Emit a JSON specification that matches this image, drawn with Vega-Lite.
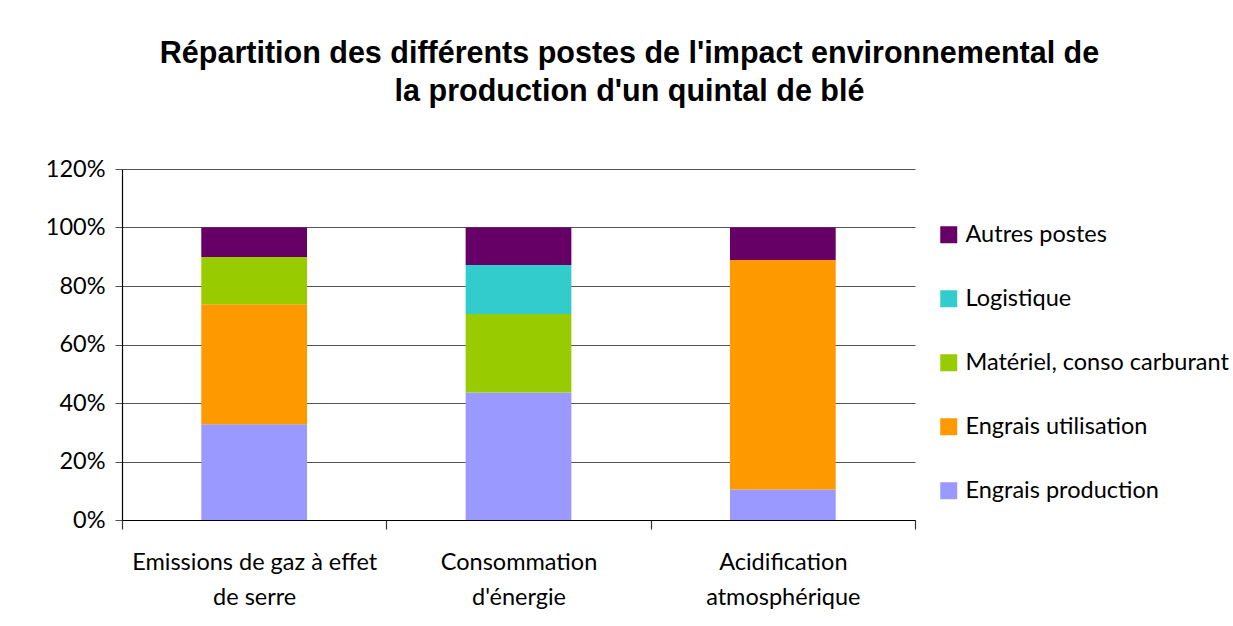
{
  "$schema": "https://vega.github.io/schema/vega-lite/v6.json",
  "autosize": {"type": "none"},
  "width": 793,
  "height": 351,
  "padding": {"left": 122, "top": 169, "right": 318, "bottom": 106},
  "background": "white",
  "title": {
    "text": ["Répartition des différents postes de l'impact environnemental de", "la production d'un quintal de blé"],
    "font": "Liberation Sans",
    "fontSize": 30.5,
    "fontWeight": "bold",
    "color": "black",
    "lineHeight": 38,
    "anchor": "middle",
    "frame": "group",
    "dx": 111,
    "offset": 50
  },
  "data": {
    "values": [
      {"impact": "Emissions de gaz à effet de serre", "poste": "Engrais production", "part": 0.327},
      {"impact": "Emissions de gaz à effet de serre", "poste": "Engrais utilisation", "part": 0.411},
      {"impact": "Emissions de gaz à effet de serre", "poste": "Matériel, conso carburant", "part": 0.161},
      {"impact": "Emissions de gaz à effet de serre", "poste": "Autres postes", "part": 0.101},
      {"impact": "Consommation d'énergie", "poste": "Engrais production", "part": 0.436},
      {"impact": "Consommation d'énergie", "poste": "Matériel, conso carburant", "part": 0.268},
      {"impact": "Consommation d'énergie", "poste": "Logistique", "part": 0.168},
      {"impact": "Consommation d'énergie", "poste": "Autres postes", "part": 0.128},
      {"impact": "Acidification atmosphérique", "poste": "Engrais production", "part": 0.104},
      {"impact": "Acidification atmosphérique", "poste": "Engrais utilisation", "part": 0.785},
      {"impact": "Acidification atmosphérique", "poste": "Autres postes", "part": 0.111}
    ]
  },
  "transform": [
    {"calculate": "indexof(['Engrais production','Engrais utilisation','Matériel, conso carburant','Logistique','Autres postes'], datum.poste)", "as": "rang"}
  ],
  "mark": {"type": "bar", "width": {"band": 0.4}},
  "encoding": {
    "x": {
      "field": "impact",
      "type": "nominal",
      "sort": ["Emissions de gaz à effet de serre", "Consommation d'énergie", "Acidification atmosphérique"],
      "scale": {"paddingInner": 0, "paddingOuter": 0},
      "axis": {
        "title": null,
        "labelAngle": 0,
        "labelExpr": "datum.label == 'Emissions de gaz à effet de serre' ? ['Emissions de gaz à effet', 'de serre'] : datum.label == 'Acidification atmosphérique' ? ['Acidification', 'atmosphérique'] : datum.label == \"Consommation d'énergie\" ? ['Consommation', \"d'énergie\"] : ''",
        "labelFont": "Lato",
        "labelFontSize": 23.5,
        "labelColor": "black",
        "labelLineHeight": 35,
        "labelPadding": 21,
        "labelLimit": 400,
        "domainColor": "black",
        "domainWidth": 1.2,
        "tickBand": "extent",
        "tickColor": "#333",
        "tickSize": 9,
        "tickWidth": 1.2
      }
    },
    "y": {
      "field": "part",
      "type": "quantitative",
      "stack": "zero",
      "scale": {"domain": [0, 1.2], "nice": false},
      "axis": {
        "title": null,
        "values": [0, 0.2, 0.4, 0.6, 0.8, 1.0, 1.2],
        "format": ".0%",
        "labelFont": "Lato",
        "labelFontSize": 23.5,
        "labelColor": "black",
        "labelPadding": 10,
        "domainColor": "black",
        "domainWidth": 1.2,
        "tickColor": "#555",
        "tickSize": 7,
        "gridColor": "#555",
        "gridWidth": 1.2
      }
    },
    "color": {
      "field": "poste",
      "type": "nominal",
      "scale": {
        "domain": ["Autres postes", "Logistique", "Matériel, conso carburant", "Engrais utilisation", "Engrais production"],
        "range": ["#660066", "#33CCCC", "#99CC00", "#FF9900", "#9999FF"]
      },
      "legend": {
        "title": null,
        "orient": "none",
        "legendX": 815,
        "legendY": 54,
        "symbolType": "square",
        "symbolSize": 289,
        "symbolStrokeWidth": 0,
        "labelFont": "Lato",
        "labelFontSize": 23.5,
        "labelColor": "black",
        "labelLimit": 400,
        "labelOffset": 5,
        "rowPadding": 39
      }
    },
    "order": {"field": "rang", "type": "quantitative", "sort": "ascending"}
  },
  "config": {
    "view": {"stroke": null}
  }
}
